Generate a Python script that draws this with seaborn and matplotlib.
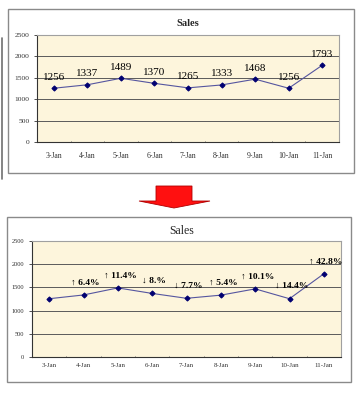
import matplotlib
matplotlib.use("Agg")
import matplotlib.pyplot as plt
from matplotlib.patches import Rectangle, Polygon
from matplotlib.lines import Line2D
import seaborn as sns
import pandas as pd

# ── Data ──────────────────────────────────────────────────────────────────────
dates = ["3-Jan", "4-Jan", "5-Jan", "6-Jan", "7-Jan", "8-Jan", "9-Jan", "10-Jan", "11-Jan"]
sales = [1256, 1337, 1489, 1370, 1265, 1333, 1468, 1256, 1793]
pct_labels = ["", "\u2191 6.4%", "\u2191 11.4%", "\u2193 8.%", "\u2193 7.7%",
              "\u2191 5.4%", "\u2191 10.1%", "\u2193 14.4%", "\u2191 42.8%"]
y_ticks = [0, 500, 1000, 1500, 2000, 2500]

df = pd.DataFrame({"date": dates, "sales": sales})

sns.set_theme(style="white")
plt.rcParams["font.family"] = ["Liberation Serif", "DejaVu Serif"]

W, H = 361, 400
BG = "#FDF5DC"
LINE = "#55559F"
MARK = "#000070"


def fx(px):
    return px / W


def fy(py):
    return 1 - py / H


fig = plt.figure(figsize=(W / 100, H / 100), dpi=100)
fig.patch.set_facecolor("white")

# outer chart boxes
fig.add_artist(Rectangle((fx(8), fy(173)), fx(346), 164 / H, transform=fig.transFigure,
                         fill=False, edgecolor="#8a8a8a", lw=1.0))
fig.add_artist(Rectangle((fx(7), fy(382)), fx(344), 165 / H, transform=fig.transFigure,
                         fill=False, edgecolor="#8a8a8a", lw=1.0))
# stray edge line on the left
fig.add_artist(Line2D([fx(1.5), fx(1.5)], [fy(38), fy(179)], transform=fig.transFigure,
                      color="#707070", lw=1.2))

# red arrow between the two charts
arrow = [(156, 186), (192, 186), (192, 201), (210, 201), (174, 208),
         (139, 201), (156, 201)]
fig.add_artist(Polygon([(fx(x), fy(y)) for x, y in arrow], closed=True,
                       transform=fig.transFigure, facecolor="#FF1010",
                       edgecolor="#B00000", lw=0.6))


def style_axes(ax, xfs, yfs, ypad):
    ax.set_facecolor(BG)
    ax.set_xlim(-0.5, len(dates) - 0.5)
    ax.set_ylim(0, 2500)
    ax.set_yticks(y_ticks)
    ax.set_yticklabels([str(v) for v in y_ticks], fontsize=yfs, color="#333333")
    ax.set_xticks(range(len(dates)))
    ax.set_xticklabels(dates, fontsize=xfs, color="#333333")
    ax.tick_params(axis="x", length=0, pad=ypad)
    ax.tick_params(axis="y", length=2.5, width=0.6, pad=3, color="#333333", left=True)
    for v in y_ticks[1:-1]:
        ax.axhline(v, color="#5a5a5a", lw=0.7, zorder=1)
    for k in range(1, len(dates)):
        ax.plot([k - 0.5, k - 0.5], [0, 25], color="#777777", lw=0.5, zorder=1)
    ax.spines["left"].set_color("#333333")
    ax.spines["bottom"].set_color("#333333")
    ax.spines["top"].set_color("#a0a0a0")
    ax.spines["right"].set_color("#a0a0a0")
    for s in ax.spines.values():
        s.set_linewidth(0.8)
    ax.set_xlabel("")
    ax.set_ylabel("")


# ── Top chart: raw values ─────────────────────────────────────────────────────
ax1 = fig.add_axes([fx(37), fy(142), fx(302), 107 / H])
sns.lineplot(data=df, x="date", y="sales", ax=ax1, color=LINE, lw=0.8,
             marker="D", markersize=2.6, markerfacecolor=MARK,
             markeredgecolor=MARK, sort=False)
style_axes(ax1, 5.6, 5.4, 7)
for i, v in enumerate(sales):
    ax1.annotate(str(v), (i, v), xytext=(0, 8), textcoords="offset points",
                 ha="center", va="center", fontsize=8, color="black")
fig.text(fx(188), fy(23), "Sales", ha="center", va="center",
         fontsize=7.5, fontweight="bold")

# ── Bottom chart: percentage change ──────────────────────────────────────────
ax2 = fig.add_axes([fx(32), fy(357), fx(309), 116 / H])
sns.lineplot(data=df, x="date", y="sales", ax=ax2, color=LINE, lw=0.8,
             marker="D", markersize=2.6, markerfacecolor=MARK,
             markeredgecolor=MARK, sort=False)
style_axes(ax2, 5.0, 4.6, 4)
for i, (v, lab) in enumerate(zip(sales, pct_labels)):
    if lab:
        ax2.annotate(lab, (i, v), xytext=(1.5, 9), textcoords="offset points",
                     ha="center", va="center", fontsize=6.8,
                     fontweight="bold", color="black")
fig.text(fx(182), fy(231), "Sales", ha="center", va="center", fontsize=8.5)

fig.savefig("out.png", dpi=100, facecolor="white")
